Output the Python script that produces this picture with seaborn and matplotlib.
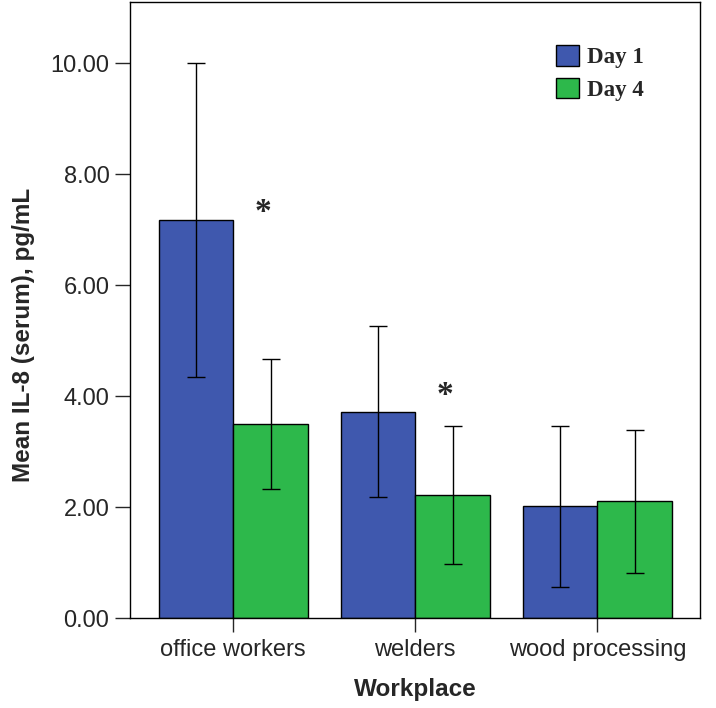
import numpy as np
import pandas as pd
import seaborn as sns
import matplotlib.pyplot as plt

# datos
grupos = ['office workers', 'welders', 'wood processing']
dias = ['Day 1', 'Day 4']
media_d1 = [7.17, 3.71, 2.02]
media_d4 = [3.50, 2.22, 2.11]
sup_d1 = [10.00, 5.26, 3.47]
inf_d1 = [4.34, 2.19, 0.56]
sup_d4 = [4.67, 3.46, 3.39]
inf_d4 = [2.33, 0.97, 0.82]
asteriscos_y = [7.30, 4.02]

df = pd.DataFrame({
    'Workplace': grupos * 2,
    'dia': ['Day 1'] * 3 + ['Day 4'] * 3,
    'media': media_d1 + media_d4,
    'inf': inf_d1 + inf_d4,
    'sup': sup_d1 + sup_d4,
})

sns.set_style('white')
plt.rcParams['font.family'] = ['Liberation Sans', 'DejaVu Sans']

fig = plt.figure(figsize=(7.16, 7.08), dpi=100)
ax = fig.add_axes([0.182, 0.127, 0.796, 0.870])

sns.barplot(data=df, x='Workplace', y='media', hue='dia', hue_order=dias,
            order=grupos, palette=['#3F58AE', '#2DB84B'], errorbar=None,
            width=0.82, edgecolor='black', linewidth=1.0, saturation=1, ax=ax)

# barras de error a partir de las posiciones de las barras
for cont, d in zip(ax.containers, dias):
    sub = df[df['dia'] == d].set_index('Workplace').loc[grupos]
    xs = [p.get_x() + p.get_width() / 2 for p in cont.patches]
    ys = sub['media'].values
    err = np.vstack([ys - sub['inf'].values, sub['sup'].values - ys])
    ax.errorbar(xs, ys, yerr=err, fmt='none', ecolor='black', elinewidth=1.0,
                capsize=6.5, capthick=1.0)

# asteriscos de significancia
pos_d4 = [p.get_x() + p.get_width() / 2 for p in ax.containers[1].patches]
for i, yv in enumerate(asteriscos_y):
    ax.text(pos_d4[i] - 0.04, yv, '*', ha='center', va='center',
            fontsize=24, fontweight='bold', family='Liberation Serif')

ax.set_ylim(0, 11.1)
ax.set_xlim(-0.565, 2.565)
ax.set_yticks([0, 2, 4, 6, 8, 10])
ax.set_yticklabels([f'{v:.2f}' for v in [0, 2, 4, 6, 8, 10]], fontsize=17)
ax.tick_params(axis='y', direction='out', length=11, width=1.0, left=True, pad=4)
ax.tick_params(axis='x', direction='out', length=10, width=1.0, bottom=True,
               labelsize=17, pad=5)
ax.set_ylabel('Mean IL-8 (serum), pg/mL', fontsize=17.5, fontweight='bold')
ax.yaxis.set_label_coords(-0.168, 0.459)
ax.set_xlabel('Workplace', fontsize=17.5, fontweight='bold', labelpad=12)
for s in ax.spines.values():
    s.set_color('black')
    s.set_linewidth(1.0)

leg = ax.legend(loc='upper left', bbox_to_anchor=(0.747, 0.93), frameon=False,
                prop={'family': 'Liberation Serif', 'weight': 'bold', 'size': 16.5},
                handlelength=1.0, handleheight=1.0, handletextpad=0.35,
                labelspacing=0.4, borderpad=0, borderaxespad=0)
leg.set_title(None)

fig.savefig('out.png', dpi=100)
